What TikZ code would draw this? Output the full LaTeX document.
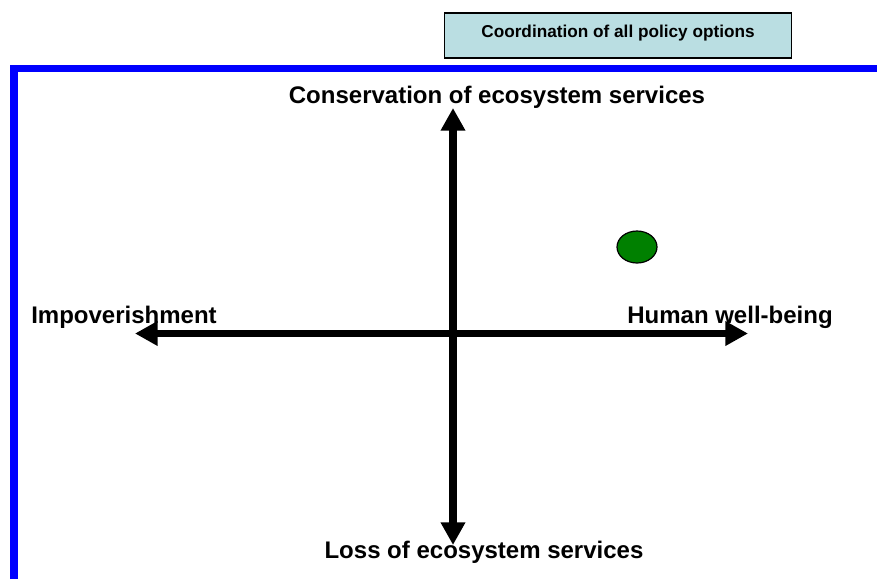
\documentclass[tikz,border=0pt]{standalone}
\usepackage{fontspec}
\setmainfont{Liberation Sans}
\usetikzlibrary{positioning, arrows.meta, shapes.geometric}

\definecolor{boxcyan}{RGB}{186,222,226}
\definecolor{dotgreen}{RGB}{0,128,0}

\tikzset{
	axis/.style={line width=5.6pt, -{Triangle[length=17pt,width=17.5pt]}},
	axislabel/.style={font=\fontsize{18}{21}\selectfont\bfseries, inner sep=0pt},
	frameline/.style={blue, line width=5.4pt},
}

\begin{document}
\begin{tikzpicture}[x=0.75pt, y=-0.75pt]
		\useasboundingbox (0,0) rectangle (877,579);

		% blue frame along top and left
		\coordinate (F0) at (14,579);
		\coordinate (F1) at (14,68.5);
		\coordinate (F2) at (877,68.5);
		\draw[frameline] (F0) -- (F1) -- (F2);

		% title box
		\node[draw=black, line width=1.2pt, fill=boxcyan, minimum width=260pt, minimum height=33.5pt,
			text depth=6pt, font=\fontsize{12.9}{15}\selectfont\bfseries] (T) at (618,35.5) {Coordination of all policy options};

		% axes
		\coordinate (O) at (453,333.5);
		\coordinate (N) at (453,108);
		\coordinate (S) at (453,545);
		\coordinate (W) at (135,333.5);
		\coordinate (E) at (748,333.5);
		\draw[axis] (O) -- (N);
		\draw[axis] (O) -- (S);
		\draw[axis] (O) -- (W);
		\draw[axis] (O) -- (E);

		\node[axislabel] (up) at (497,97) {Conservation of ecosystem services};
		\node[axislabel] (down) at (484,552) {Loss of ecosystem services};
		\node[axislabel] (left) at (124,317.5) {Impoverishment};
		\node[axislabel] (right) at (730,317.5) {Human well-being};

		% current position
		\node[draw=black, line width=0.9pt, fill=dotgreen, ellipse, minimum width=30pt, minimum height=24pt, inner sep=0pt] (dot) at (637,247) {};
	\end{tikzpicture}
\end{document}
